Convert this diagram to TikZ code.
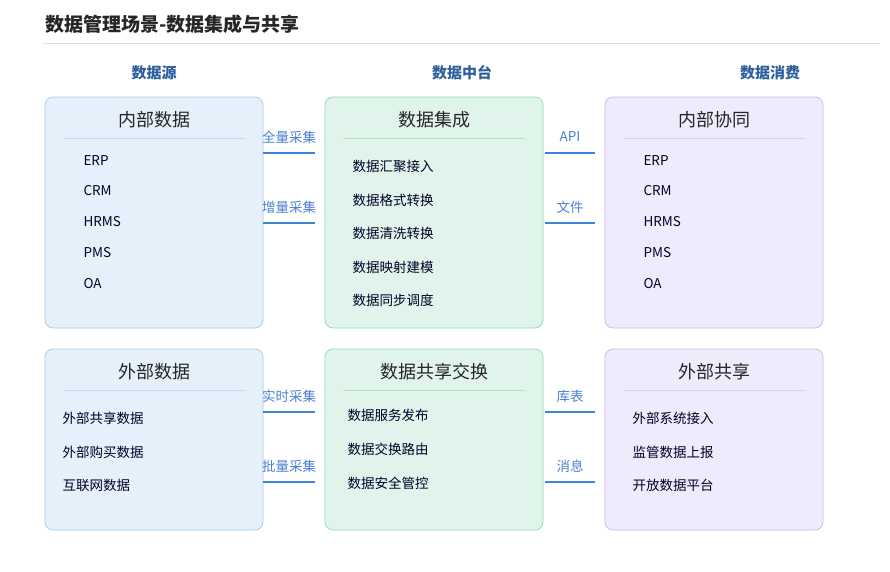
\documentclass[tikz,border=0pt]{standalone}
\usepackage{fontspec}
\setmainfont{Noto Sans CJK SC}
\begin{document}
\begin{tikzpicture}[x=1pt,y=-1pt,
  box/.style={draw=#1!60!white,rounded corners=8pt,line width=0.7pt},
  ttl/.style={font=\fontsize{18}{20}\selectfont,text=black!85},
  itm/.style={font=\fontsize{13.5}{15}\selectfont,text=black!75!blue!60!black,anchor=west},
  hd/.style={font=\bfseries\fontsize{15}{17}\selectfont,text=hdc},
  lbl/.style={font=\fontsize{13.5}{15}\selectfont,text=lblc},
  con/.style={draw=linec,line width=1.5pt}]
\definecolor{hdc}{HTML}{2E5E9C}
\definecolor{lblc}{HTML}{4A80D0}
\definecolor{linec}{HTML}{3A85D8}
\definecolor{bf}{HTML}{E6F0FB}\definecolor{bb}{HTML}{A9C8EE}
\definecolor{gf}{HTML}{E1F4EC}\definecolor{gb}{HTML}{8FD8B5}
\definecolor{pf}{HTML}{EEEBFC}\definecolor{pb}{HTML}{C4B9F0}
\definecolor{sepc}{HTML}{DDDDDD}
\useasboundingbox (0,0) rectangle (890,571);
\node[anchor=west,font=\bfseries\fontsize{19}{21}\selectfont,text=black!85] (title) at (42,24) {数据管理场景-数据集成与共享};
\draw[sepc] (43,43) -- (880,43);
\node[hd] (h1) at (154,73) {数据源};
\node[hd] (h2) at (462,73) {数据中台};
\node[hd] (h3) at (770,73) {数据消费};
% boxes
\foreach \x/\f/\b/\n in {45/bf/bb/a,325/gf/gb/b,605/pf/pb/c}{
  \draw[fill=\f,draw=\b,rounded corners=8pt,line width=0.7pt] (\x,97) rectangle ++(218,231);
  \draw[fill=\f,draw=\b,rounded corners=8pt,line width=0.7pt] (\x,349) rectangle ++(218,181);
  \draw[\b!70!white] (\x+18,138) -- (\x+200,138);
  \draw[\b!70!white] (\x+18,390) -- (\x+200,390);
}
\node[ttl] (t1) at (154,120) {内部数据};
\node[ttl] (t2) at (434,120) {数据集成};
\node[ttl] (t3) at (714,120) {内部协同};
\node[ttl] (t4) at (154,372) {外部数据};
\node[ttl] (t5) at (434,372) {数据共享交换};
\node[ttl] (t6) at (714,372) {外部共享};
\foreach \t/\y [count=\i] in {ERP/161,CRM/191,HRMS/222,PMS/253,OA/284}{
  \node[itm] (l\i) at (80,\y) {\t};
  \node[itm] (r\i) at (640,\y) {\t};}
\foreach \t/\y [count=\i] in {数据汇聚接入/166,数据格式转换/200,数据清洗转换/233,数据映射建模/267,数据同步调度/300}
  \node[itm] (m\i) at (349,\y) {\t};
\foreach \t/\y [count=\i] in {外部共享数据/418,外部购买数据/452,互联网数据/485}
  \node[itm] (bl\i) at (59,\y) {\t};
\foreach \t/\y [count=\i] in {数据服务发布/415,数据交换路由/449,数据安全管控/483}
  \node[itm] (bm\i) at (344,\y) {\t};
\foreach \t/\y [count=\i] in {外部系统接入/418,监管数据上报/452,开放数据平台/485}
  \node[itm] (br\i) at (629,\y) {\t};
% connectors
\foreach \t/\y [count=\i] in {全量采集/153,增量采集/223,实时采集/412,批量采集/482}{
  \node[lbl] (cl\i) at (289,\y-16) {\t};
  \coordinate (cla\i) at (263,\y); \coordinate (clb\i) at (315,\y);
  \draw[con] (cla\i) -- (clb\i);}
\foreach \t/\y [count=\i] in {API/153,文件/223,库表/412,消息/482}{
  \node[lbl] (cr\i) at (570,\y-16) {\t};
  \coordinate (cra\i) at (545,\y); \coordinate (crb\i) at (595,\y);
  \draw[con] (cra\i) -- (crb\i);}
\end{tikzpicture}
\end{document}
